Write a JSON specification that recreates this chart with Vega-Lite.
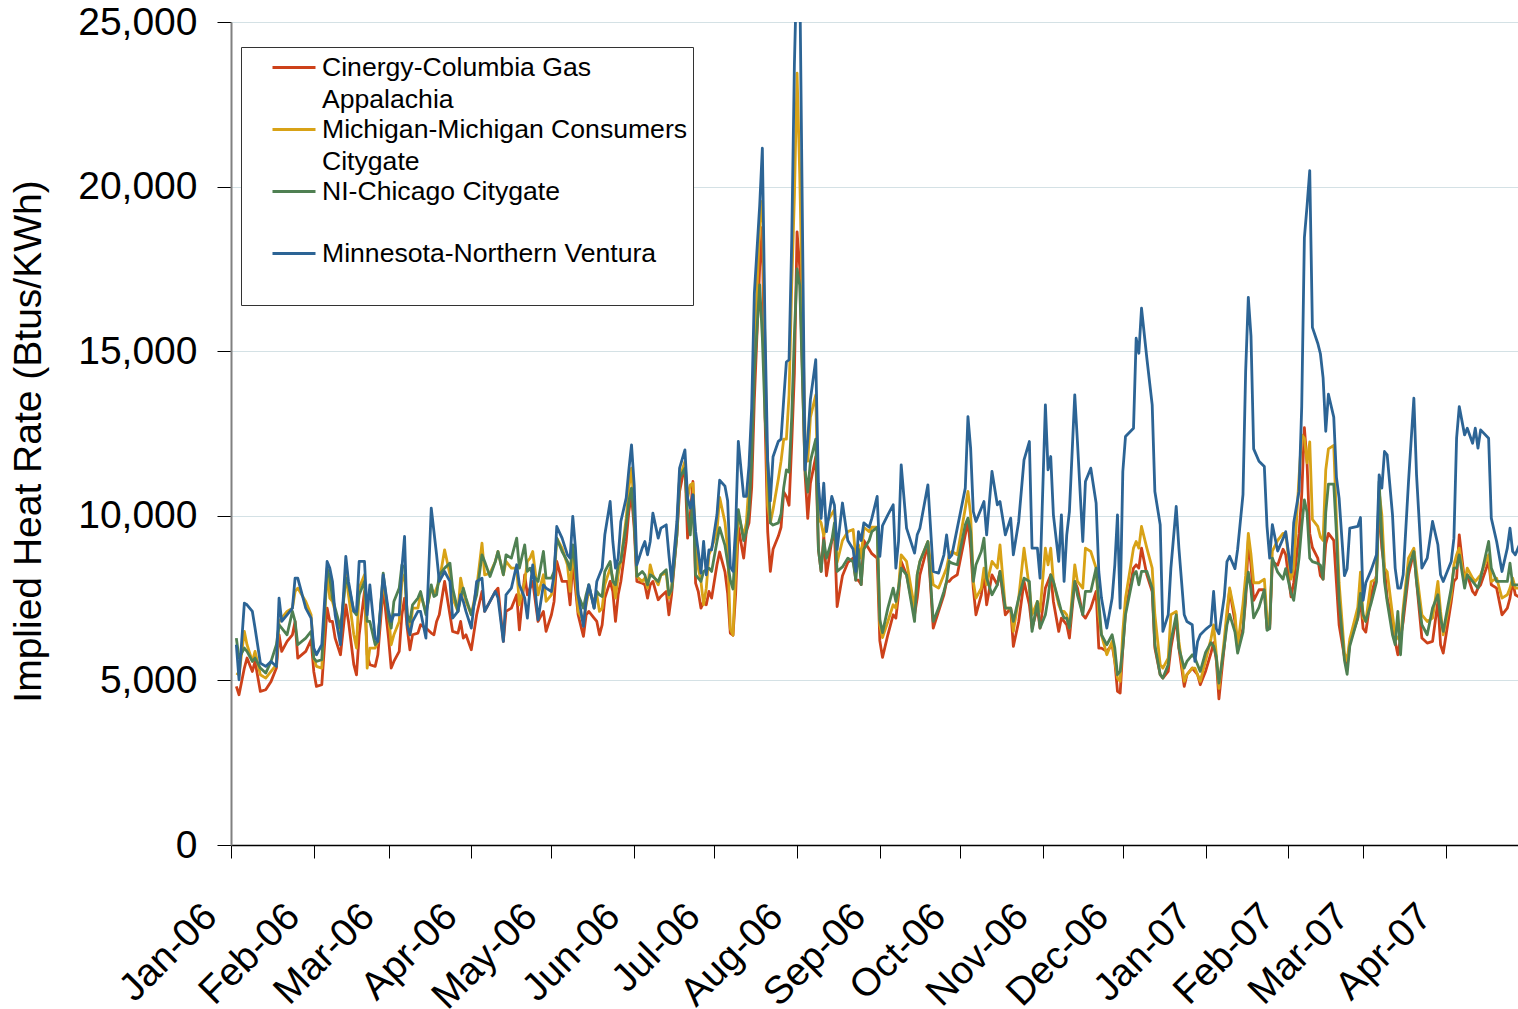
{
  "$schema": "https://vega.github.io/schema/vega-lite/v6.json",
  "autosize": {"type": "none"},
  "padding": {"left": 231, "top": 22, "right": 0, "bottom": 164},
  "width": 1287,
  "height": 823,
  "background": "white",
  "config": {"view": {"stroke": null}, "font": "Liberation Sans"},
  "data": {
    "format": {"parse": {"d": "date:'%Y-%m-%d'"}},
    "values": [
      {"d":"2006-01-03","cin":4820,"mic":5220,"chi":6285,"min":6083},
      {"d":"2006-01-04","cin":4565,"mic":5170,"chi":5680,"min":5020},
      {"d":"2006-01-06","cin":5375,"mic":6488,"chi":5982,"min":7348},
      {"d":"2006-01-07","cin":5680,"mic":6083,"chi":5880,"min":7297},
      {"d":"2006-01-09","cin":5270,"mic":5577,"chi":5577,"min":7095},
      {"d":"2006-01-10","cin":5577,"mic":5880,"chi":5678,"min":6589},
      {"d":"2006-01-12","cin":4666,"mic":5170,"chi":5374,"min":5526},
      {"d":"2006-01-14","cin":4717,"mic":5070,"chi":5223,"min":5425},
      {"d":"2006-01-16","cin":4970,"mic":5273,"chi":5577,"min":5577},
      {"d":"2006-01-18","cin":5374,"mic":5476,"chi":6083,"min":5425},
      {"d":"2006-01-19","cin":6386,"mic":6791,"chi":6690,"min":7500},
      {"d":"2006-01-20","cin":5880,"mic":6893,"chi":6589,"min":6791},
      {"d":"2006-01-22","cin":6184,"mic":7095,"chi":6386,"min":6994},
      {"d":"2006-01-24","cin":6386,"mic":7196,"chi":7095,"min":7196},
      {"d":"2006-01-25","cin":6791,"mic":7702,"chi":6791,"min":8107},
      {"d":"2006-01-26","cin":5678,"mic":7803,"chi":6083,"min":8107},
      {"d":"2006-01-29","cin":5880,"mic":7398,"chi":6285,"min":7196},
      {"d":"2006-01-31","cin":6234,"mic":6994,"chi":6488,"min":6893},
      {"d":"2006-02-01","cin":5273,"mic":5678,"chi":5678,"min":5982},
      {"d":"2006-02-02","cin":4818,"mic":5425,"chi":5577,"min":5779},
      {"d":"2006-02-04","cin":4869,"mic":5374,"chi":5627,"min":6083},
      {"d":"2006-02-06","cin":7196,"mic":8309,"chi":8411,"min":8613},
      {"d":"2006-02-07","cin":6791,"mic":7500,"chi":8107,"min":8411},
      {"d":"2006-02-08","cin":6791,"mic":7398,"chi":7500,"min":8006},
      {"d":"2006-02-09","cin":6285,"mic":7095,"chi":7196,"min":6994},
      {"d":"2006-02-11","cin":5779,"mic":6285,"chi":6589,"min":6083},
      {"d":"2006-02-13","cin":7297,"mic":8208,"chi":8107,"min":8765},
      {"d":"2006-02-14","cin":6791,"mic":7601,"chi":7904,"min":8006},
      {"d":"2006-02-16","cin":5476,"mic":6386,"chi":7095,"min":7095},
      {"d":"2006-02-17","cin":5170,"mic":5982,"chi":6994,"min":7095},
      {"d":"2006-02-18","cin":6386,"mic":7803,"chi":7601,"min":8613},
      {"d":"2006-02-20","cin":7702,"mic":8208,"chi":8006,"min":8613},
      {"d":"2006-02-21","cin":5779,"mic":5374,"chi":6791,"min":6994},
      {"d":"2006-02-22","cin":5476,"mic":5982,"chi":6791,"min":7904},
      {"d":"2006-02-24","cin":5425,"mic":5982,"chi":6083,"min":6285},
      {"d":"2006-02-25","cin":5779,"mic":6184,"chi":6184,"min":6184},
      {"d":"2006-02-27","cin":7803,"mic":8006,"chi":8259,"min":8208},
      {"d":"2006-03-01","cin":6285,"mic":6994,"chi":6893,"min":7095},
      {"d":"2006-03-02","cin":5375,"mic":6083,"chi":6589,"min":6791},
      {"d":"2006-03-03","cin":5577,"mic":6386,"chi":7398,"min":6994},
      {"d":"2006-03-05","cin":5880,"mic":6791,"chi":7803,"min":6994},
      {"d":"2006-03-06","cin":6994,"mic":8006,"chi":8512,"min":8411},
      {"d":"2006-03-07","cin":7500,"mic":8208,"chi":8411,"min":9372},
      {"d":"2006-03-08","cin":6589,"mic":6994,"chi":6994,"min":6690},
      {"d":"2006-03-09","cin":5931,"mic":6386,"chi":6791,"min":6386},
      {"d":"2006-03-10","cin":6386,"mic":7196,"chi":7297,"min":6791},
      {"d":"2006-03-12","cin":6437,"mic":7196,"chi":7500,"min":7095},
      {"d":"2006-03-13","cin":6690,"mic":7601,"chi":7702,"min":7095},
      {"d":"2006-03-15","cin":6589,"mic":7095,"chi":6994,"min":6285},
      {"d":"2006-03-17","cin":6437,"mic":7803,"chi":7904,"min":10232},
      {"d":"2006-03-18","cin":6386,"mic":7601,"chi":7550,"min":9524},
      {"d":"2006-03-19","cin":6791,"mic":7803,"chi":7601,"min":8815},
      {"d":"2006-03-20","cin":6994,"mic":8006,"chi":8208,"min":8006},
      {"d":"2006-03-22","cin":8006,"mic":8967,"chi":8411,"min":8309},
      {"d":"2006-03-24","cin":6994,"mic":8208,"chi":8562,"min":8006},
      {"d":"2006-03-25","cin":6488,"mic":7500,"chi":7803,"min":6893},
      {"d":"2006-03-27","cin":6437,"mic":7095,"chi":7095,"min":7095},
      {"d":"2006-03-28","cin":6791,"mic":8107,"chi":7500,"min":7601},
      {"d":"2006-03-29","cin":6285,"mic":7702,"chi":7803,"min":7398},
      {"d":"2006-03-30","cin":6386,"mic":7398,"chi":7500,"min":7095},
      {"d":"2006-04-01","cin":5931,"mic":6994,"chi":6994,"min":6589},
      {"d":"2006-04-03","cin":6994,"mic":7803,"chi":7601,"min":8006},
      {"d":"2006-04-05","cin":7702,"mic":9170,"chi":8815,"min":8107},
      {"d":"2006-04-06","cin":7095,"mic":8208,"chi":8613,"min":7095},
      {"d":"2006-04-08","cin":7398,"mic":8259,"chi":8158,"min":7398},
      {"d":"2006-04-10","cin":7702,"mic":8613,"chi":8613,"min":7702},
      {"d":"2006-04-11","cin":7803,"mic":8916,"chi":8916,"min":7500},
      {"d":"2006-04-13","cin":6184,"mic":8208,"chi":8208,"min":6183},
      {"d":"2006-04-14","cin":7095,"mic":8613,"chi":8815,"min":7601},
      {"d":"2006-04-16","cin":7196,"mic":8411,"chi":8714,"min":7803},
      {"d":"2006-04-18","cin":7601,"mic":8411,"chi":9321,"min":8512},
      {"d":"2006-04-19","cin":6538,"mic":7297,"chi":8411,"min":7904},
      {"d":"2006-04-21","cin":8208,"mic":8006,"chi":9119,"min":7500},
      {"d":"2006-04-22","cin":7601,"mic":8613,"chi":8309,"min":6893},
      {"d":"2006-04-23","cin":7803,"mic":8714,"chi":8411,"min":7803},
      {"d":"2006-04-24","cin":8006,"mic":8916,"chi":8208,"min":8511},
      {"d":"2006-04-26","cin":6791,"mic":7601,"chi":8006,"min":6842},
      {"d":"2006-04-28","cin":7095,"mic":8208,"chi":8916,"min":7904},
      {"d":"2006-04-29","cin":6488,"mic":7398,"chi":8107,"min":7803},
      {"d":"2006-05-01","cin":6994,"mic":7601,"chi":8107,"min":7702},
      {"d":"2006-05-02","cin":7398,"mic":8006,"chi":8309,"min":8208},
      {"d":"2006-05-03","cin":8613,"mic":9321,"chi":9321,"min":9675},
      {"d":"2006-05-05","cin":8006,"mic":9018,"chi":8916,"min":9321},
      {"d":"2006-05-07","cin":8006,"mic":8512,"chi":8613,"min":8815},
      {"d":"2006-05-08","cin":7297,"mic":7702,"chi":8360,"min":8714},
      {"d":"2006-05-09","cin":8613,"mic":8916,"chi":9119,"min":9980},
      {"d":"2006-05-10","cin":7803,"mic":8208,"chi":8411,"min":9018},
      {"d":"2006-05-11","cin":6994,"mic":7095,"chi":7601,"min":7601},
      {"d":"2006-05-13","cin":6336,"mic":6791,"chi":7196,"min":6640},
      {"d":"2006-05-14","cin":6994,"mic":7297,"chi":7601,"min":7398},
      {"d":"2006-05-15","cin":7095,"mic":7702,"chi":7904,"min":7904},
      {"d":"2006-05-17","cin":6893,"mic":7398,"chi":7196,"min":7196},
      {"d":"2006-05-18","cin":6791,"mic":7601,"chi":7702,"min":8006},
      {"d":"2006-05-19","cin":6386,"mic":7095,"chi":7601,"min":8208},
      {"d":"2006-05-20","cin":6690,"mic":7196,"chi":7550,"min":8411},
      {"d":"2006-05-21","cin":7500,"mic":7904,"chi":8309,"min":9422},
      {"d":"2006-05-23","cin":8006,"mic":8411,"chi":8613,"min":10435},
      {"d":"2006-05-24","cin":7702,"mic":8107,"chi":8006,"min":9220},
      {"d":"2006-05-25","cin":6791,"mic":7500,"chi":7904,"min":8411},
      {"d":"2006-05-26","cin":7601,"mic":8208,"chi":8512,"min":8714},
      {"d":"2006-05-27","cin":8006,"mic":8613,"chi":8613,"min":9827},
      {"d":"2006-05-29","cin":9220,"mic":9929,"chi":9726,"min":10536},
      {"d":"2006-05-30","cin":10131,"mic":10840,"chi":10435,"min":11396},
      {"d":"2006-05-31","cin":10637,"mic":11447,"chi":10840,"min":12155},
      {"d":"2006-06-01","cin":9625,"mic":10232,"chi":9827,"min":10941},
      {"d":"2006-06-02","cin":8006,"mic":8158,"chi":8158,"min":8512},
      {"d":"2006-06-04","cin":7955,"mic":8006,"chi":8309,"min":9018},
      {"d":"2006-06-05","cin":7904,"mic":8107,"chi":8208,"min":9220},
      {"d":"2006-06-06","cin":7500,"mic":7803,"chi":7904,"min":8815},
      {"d":"2006-06-07","cin":7904,"mic":8512,"chi":8208,"min":9220},
      {"d":"2006-06-08","cin":8006,"mic":8208,"chi":8158,"min":10080},
      {"d":"2006-06-10","cin":7449,"mic":7904,"chi":8006,"min":9321},
      {"d":"2006-06-11","cin":7550,"mic":8208,"chi":8208,"min":9625},
      {"d":"2006-06-13","cin":7702,"mic":8259,"chi":8360,"min":9726},
      {"d":"2006-06-14","cin":6994,"mic":7500,"chi":7601,"min":8815},
      {"d":"2006-06-15","cin":7601,"mic":7803,"chi":7753,"min":8006},
      {"d":"2006-06-17","cin":9422,"mic":9625,"chi":9422,"min":9827},
      {"d":"2006-06-18","cin":10739,"mic":11143,"chi":11143,"min":11447},
      {"d":"2006-06-20","cin":11548,"mic":11649,"chi":11447,"min":12003},
      {"d":"2006-06-21","cin":9321,"mic":10536,"chi":10030,"min":10536},
      {"d":"2006-06-22","cin":10030,"mic":10941,"chi":9422,"min":10232},
      {"d":"2006-06-23","cin":11042,"mic":10991,"chi":10637,"min":10637},
      {"d":"2006-06-24","cin":7955,"mic":9119,"chi":8208,"min":9524},
      {"d":"2006-06-25","cin":7702,"mic":8411,"chi":8107,"min":8916},
      {"d":"2006-06-26","cin":7196,"mic":8006,"chi":8006,"min":8259},
      {"d":"2006-06-27","cin":7398,"mic":7297,"chi":8309,"min":9220},
      {"d":"2006-06-28","cin":7297,"mic":7803,"chi":8360,"min":8208},
      {"d":"2006-06-29","cin":7702,"mic":8815,"chi":8411,"min":8967},
      {"d":"2006-06-30","cin":7500,"mic":9018,"chi":8309,"min":8967},
      {"d":"2006-07-02","cin":8512,"mic":9524,"chi":9220,"min":10030},
      {"d":"2006-07-03","cin":8900,"mic":10560,"chi":9640,"min":11080},
      {"d":"2006-07-05","cin":8300,"mic":9800,"chi":9100,"min":10900},
      {"d":"2006-07-06","cin":7643,"mic":8982,"chi":8581,"min":10455},
      {"d":"2006-07-07","cin":6438,"mic":6572,"chi":8045,"min":8447},
      {"d":"2006-07-08","cin":6371,"mic":6371,"chi":7777,"min":8313},
      {"d":"2006-07-09","cin":7643,"mic":8313,"chi":9250,"min":9652},
      {"d":"2006-07-10","cin":9652,"mic":10054,"chi":10187,"min":12263},
      {"d":"2006-07-12","cin":8715,"mic":9384,"chi":9250,"min":10589},
      {"d":"2006-07-13","cin":9518,"mic":9786,"chi":9518,"min":10589},
      {"d":"2006-07-14","cin":9786,"mic":10991,"chi":10187,"min":11526},
      {"d":"2006-07-15","cin":10857,"mic":12330,"chi":11660,"min":13267},
      {"d":"2006-07-16","cin":13535,"mic":14874,"chi":14338,"min":16749},
      {"d":"2006-07-18","cin":17552,"mic":18891,"chi":17016,"min":19427},
      {"d":"2006-07-19","cin":18757,"mic":19561,"chi":15410,"min":21167},
      {"d":"2006-07-20","cin":12999,"mic":15008,"chi":12999,"min":15677},
      {"d":"2006-07-21","cin":9518,"mic":10321,"chi":11660,"min":11660},
      {"d":"2006-07-22","cin":8313,"mic":9786,"chi":9786,"min":10455},
      {"d":"2006-07-23","cin":8982,"mic":10187,"chi":9719,"min":11794},
      {"d":"2006-07-25","cin":9384,"mic":11125,"chi":9786,"min":12263},
      {"d":"2006-07-26","cin":9652,"mic":11660,"chi":10054,"min":12330},
      {"d":"2006-07-27","cin":10723,"mic":12330,"chi":10857,"min":13535},
      {"d":"2006-07-28","cin":10589,"mic":12330,"chi":11393,"min":14673},
      {"d":"2006-07-29","cin":10321,"mic":13669,"chi":11326,"min":14740},
      {"d":"2006-07-30","cin":12196,"mic":17016,"chi":12999,"min":18355},
      {"d":"2006-07-31","cin":14338,"mic":19694,"chi":15500,"min":23711},
      {"d":"2006-08-01","cin":18623,"mic":23444,"chi":17500,"min":27000},
      {"d":"2006-08-02","cin":17552,"mic":20364,"chi":17000,"min":26500},
      {"d":"2006-08-04","cin":11259,"mic":12330,"chi":11393,"min":11393},
      {"d":"2006-08-05","cin":9920,"mic":11660,"chi":10723,"min":12330},
      {"d":"2006-08-06","cin":10991,"mic":12999,"chi":11660,"min":13535},
      {"d":"2006-08-08","cin":11794,"mic":13669,"chi":12330,"min":14740},
      {"d":"2006-08-09","cin":8982,"mic":9920,"chi":8982,"min":10991},
      {"d":"2006-08-10","cin":8313,"mic":9786,"chi":8313,"min":9920},
      {"d":"2006-08-11","cin":9384,"mic":9384,"chi":9250,"min":10991},
      {"d":"2006-08-12","cin":8179,"mic":9786,"chi":8715,"min":9518},
      {"d":"2006-08-14","cin":9250,"mic":10054,"chi":9250,"min":10589},
      {"d":"2006-08-15","cin":9518,"mic":10187,"chi":9786,"min":10321},
      {"d":"2006-08-16","cin":7242,"mic":8581,"chi":8313,"min":8982},
      {"d":"2006-08-18","cin":8179,"mic":9250,"chi":8447,"min":10388},
      {"d":"2006-08-20","cin":8581,"mic":9518,"chi":8715,"min":9250},
      {"d":"2006-08-22","cin":8715,"mic":9585,"chi":8600,"min":8982},
      {"d":"2006-08-23","cin":8045,"mic":8715,"chi":8045,"min":8313},
      {"d":"2006-08-24","cin":8045,"mic":9117,"chi":8982,"min":9518},
      {"d":"2006-08-25","cin":7911,"mic":8715,"chi":7911,"min":9250},
      {"d":"2006-08-26","cin":9250,"mic":9652,"chi":8982,"min":9786},
      {"d":"2006-08-28","cin":8982,"mic":9518,"chi":9250,"min":9652},
      {"d":"2006-08-29","cin":8849,"mic":9652,"chi":9518,"min":9920},
      {"d":"2006-08-31","cin":8715,"mic":9652,"chi":9652,"min":10589},
      {"d":"2006-09-01","cin":6200,"mic":6680,"chi":6850,"min":8765},
      {"d":"2006-09-02","cin":5700,"mic":6300,"chi":6450,"min":9700},
      {"d":"2006-09-04","cin":6386,"mic":6791,"chi":7196,"min":10030},
      {"d":"2006-09-06","cin":6994,"mic":7297,"chi":7803,"min":10333},
      {"d":"2006-09-07","cin":6893,"mic":7196,"chi":7398,"min":8411},
      {"d":"2006-09-08","cin":7601,"mic":7803,"chi":7803,"min":9220},
      {"d":"2006-09-09","cin":8613,"mic":8815,"chi":8411,"min":11548},
      {"d":"2006-09-11","cin":8208,"mic":8613,"chi":8208,"min":9625},
      {"d":"2006-09-14","cin":6994,"mic":7196,"chi":6791,"min":8866},
      {"d":"2006-09-15","cin":7500,"mic":8208,"chi":8208,"min":9422},
      {"d":"2006-09-16","cin":8208,"mic":8613,"chi":8613,"min":9625},
      {"d":"2006-09-19","cin":9119,"mic":9220,"chi":9220,"min":10941},
      {"d":"2006-09-21","cin":6589,"mic":7904,"chi":6791,"min":8309},
      {"d":"2006-09-23","cin":7095,"mic":7803,"chi":7196,"min":8259},
      {"d":"2006-09-25","cin":7601,"mic":8208,"chi":7702,"min":8815},
      {"d":"2006-09-26","cin":8006,"mic":8411,"chi":8006,"min":9422},
      {"d":"2006-09-27","cin":8006,"mic":8815,"chi":8613,"min":8714},
      {"d":"2006-09-28","cin":8107,"mic":8916,"chi":8562,"min":8815},
      {"d":"2006-09-30","cin":8208,"mic":8815,"chi":8512,"min":9625},
      {"d":"2006-10-03","cin":9422,"mic":10232,"chi":9726,"min":10840},
      {"d":"2006-10-04","cin":9827,"mic":10738,"chi":9929,"min":13015},
      {"d":"2006-10-05","cin":9018,"mic":10030,"chi":9524,"min":12054},
      {"d":"2006-10-06","cin":7803,"mic":8006,"chi":8006,"min":10131},
      {"d":"2006-10-07","cin":6994,"mic":7500,"chi":8512,"min":9827},
      {"d":"2006-10-09","cin":7601,"mic":7803,"chi":8916,"min":10232},
      {"d":"2006-10-10","cin":8208,"mic":8411,"chi":9321,"min":10434},
      {"d":"2006-10-11","cin":7297,"mic":7904,"chi":8107,"min":9422},
      {"d":"2006-10-13","cin":8208,"mic":8613,"chi":7601,"min":11346},
      {"d":"2006-10-15","cin":7904,"mic":8411,"chi":7904,"min":10333},
      {"d":"2006-10-16","cin":8309,"mic":9119,"chi":8309,"min":10435},
      {"d":"2006-10-18","cin":6994,"mic":7196,"chi":7196,"min":9422},
      {"d":"2006-10-20","cin":7196,"mic":7196,"chi":7196,"min":9929},
      {"d":"2006-10-21","cin":6032,"mic":6488,"chi":6791,"min":8815},
      {"d":"2006-10-23","cin":6791,"mic":7500,"chi":7500,"min":9827},
      {"d":"2006-10-25","cin":8006,"mic":9018,"chi":8107,"min":11700},
      {"d":"2006-10-27","cin":7297,"mic":7803,"chi":8006,"min":12256},
      {"d":"2006-10-28","cin":6589,"mic":6994,"chi":6488,"min":9018},
      {"d":"2006-10-30","cin":7196,"mic":7398,"chi":7398,"min":9018},
      {"d":"2006-10-31","cin":6589,"mic":7095,"chi":6589,"min":8107},
      {"d":"2006-11-02","cin":7803,"mic":9018,"chi":6994,"min":13369},
      {"d":"2006-11-03","cin":8006,"mic":8512,"chi":7500,"min":11396},
      {"d":"2006-11-04","cin":8208,"mic":9018,"chi":8208,"min":11801},
      {"d":"2006-11-05","cin":7398,"mic":8006,"chi":8006,"min":10030},
      {"d":"2006-11-07","cin":6488,"mic":7297,"chi":7398,"min":8613},
      {"d":"2006-11-08","cin":6893,"mic":7095,"chi":7095,"min":10030},
      {"d":"2006-11-09","cin":6791,"mic":7095,"chi":6893,"min":8006},
      {"d":"2006-11-10","cin":6690,"mic":6994,"chi":6893,"min":9422},
      {"d":"2006-11-11","cin":6285,"mic":6589,"chi":6589,"min":10131},
      {"d":"2006-11-13","cin":8006,"mic":8512,"chi":8006,"min":13673},
      {"d":"2006-11-14","cin":7803,"mic":8006,"chi":7601,"min":12256},
      {"d":"2006-11-16","cin":6994,"mic":7803,"chi":6994,"min":9220},
      {"d":"2006-11-17","cin":6893,"mic":9018,"chi":7702,"min":11042},
      {"d":"2006-11-19","cin":7196,"mic":8917,"chi":7702,"min":11447},
      {"d":"2006-11-21","cin":7702,"mic":8411,"chi":8411,"min":10384},
      {"d":"2006-11-22","cin":5982,"mic":6994,"chi":7398,"min":8309},
      {"d":"2006-11-23","cin":5982,"mic":6386,"chi":6386,"min":7500},
      {"d":"2006-11-25","cin":5880,"mic":5779,"chi":6083,"min":6589},
      {"d":"2006-11-27","cin":6083,"mic":6184,"chi":6386,"min":7500},
      {"d":"2006-11-28","cin":5577,"mic":5577,"chi":5982,"min":8512},
      {"d":"2006-11-29","cin":4666,"mic":5071,"chi":5172,"min":10030},
      {"d":"2006-11-30","cin":4615,"mic":4970,"chi":5273,"min":7196},
      {"d":"2006-12-01","cin":5982,"mic":6488,"chi":5982,"min":11346},
      {"d":"2006-12-02","cin":7095,"mic":7500,"chi":6994,"min":12408},
      {"d":"2006-12-05","cin":8411,"mic":9018,"chi":8208,"min":12661},
      {"d":"2006-12-06","cin":8512,"mic":9220,"chi":8309,"min":15393},
      {"d":"2006-12-07","cin":8411,"mic":9018,"chi":7904,"min":14938},
      {"d":"2006-12-08","cin":9018,"mic":9675,"chi":8309,"min":16304},
      {"d":"2006-12-10","cin":8208,"mic":9018,"chi":8309,"min":14786},
      {"d":"2006-12-12","cin":7702,"mic":8411,"chi":7803,"min":13369},
      {"d":"2006-12-13","cin":5982,"mic":6994,"chi":6083,"min":10738},
      {"d":"2006-12-15","cin":5172,"mic":5476,"chi":5172,"min":9726},
      {"d":"2006-12-16","cin":5071,"mic":5375,"chi":5071,"min":6488},
      {"d":"2006-12-18","cin":5273,"mic":5678,"chi":5476,"min":6994},
      {"d":"2006-12-19","cin":5982,"mic":6994,"chi":6184,"min":8411},
      {"d":"2006-12-21","cin":6893,"mic":7095,"chi":6994,"min":10283},
      {"d":"2006-12-22","cin":5982,"mic":6184,"chi":5982,"min":9018},
      {"d":"2006-12-24","cin":4818,"mic":4970,"chi":5375,"min":6994},
      {"d":"2006-12-25","cin":5172,"mic":5172,"chi":5577,"min":6791},
      {"d":"2006-12-27","cin":5375,"mic":5375,"chi":5779,"min":6690},
      {"d":"2006-12-28","cin":5273,"mic":5375,"chi":5678,"min":5577},
      {"d":"2006-12-29","cin":5172,"mic":5172,"chi":5476,"min":6184},
      {"d":"2006-12-30","cin":4869,"mic":4970,"chi":5273,"min":6386},
      {"d":"2007-01-01","cin":5280,"mic":5600,"chi":5850,"min":6550},
      {"d":"2007-01-03","cin":5827,"mic":6255,"chi":6148,"min":6683},
      {"d":"2007-01-04","cin":6148,"mic":6683,"chi":6041,"min":7700},
      {"d":"2007-01-05","cin":5613,"mic":5800,"chi":5720,"min":6576},
      {"d":"2007-01-06","cin":4436,"mic":4757,"chi":4918,"min":6416},
      {"d":"2007-01-08","cin":6041,"mic":6255,"chi":6041,"min":7540},
      {"d":"2007-01-09","cin":6897,"mic":7111,"chi":6683,"min":8609},
      {"d":"2007-01-10","cin":7753,"mic":7807,"chi":7004,"min":8770},
      {"d":"2007-01-12","cin":6790,"mic":7004,"chi":6469,"min":8395},
      {"d":"2007-01-13","cin":5934,"mic":6041,"chi":5827,"min":8984},
      {"d":"2007-01-15","cin":6576,"mic":7325,"chi":6469,"min":10642},
      {"d":"2007-01-16","cin":7432,"mic":8181,"chi":7646,"min":14387},
      {"d":"2007-01-17","cin":9251,"mic":9465,"chi":8288,"min":16634},
      {"d":"2007-01-18","cin":8502,"mic":8823,"chi":7753,"min":15457},
      {"d":"2007-01-19","cin":7432,"mic":7967,"chi":6897,"min":12033},
      {"d":"2007-01-21","cin":7753,"mic":7967,"chi":7218,"min":11659},
      {"d":"2007-01-23","cin":7753,"mic":8074,"chi":7753,"min":11498},
      {"d":"2007-01-24","cin":6576,"mic":6897,"chi":6523,"min":9679},
      {"d":"2007-01-25","cin":6576,"mic":6683,"chi":6576,"min":8716},
      {"d":"2007-01-26","cin":8609,"mic":8930,"chi":8716,"min":9733},
      {"d":"2007-01-28","cin":8502,"mic":9251,"chi":8288,"min":8930},
      {"d":"2007-01-30","cin":8984,"mic":9465,"chi":8074,"min":9305},
      {"d":"2007-01-31","cin":8823,"mic":9465,"chi":8395,"min":9519},
      {"d":"2007-02-02","cin":7540,"mic":8074,"chi":7646,"min":8288},
      {"d":"2007-02-03","cin":7967,"mic":8395,"chi":7432,"min":9786},
      {"d":"2007-02-05","cin":9465,"mic":11177,"chi":8716,"min":10749},
      {"d":"2007-02-06","cin":10642,"mic":12461,"chi":9679,"min":13317},
      {"d":"2007-02-07","cin":12675,"mic":12354,"chi":10482,"min":18453},
      {"d":"2007-02-08","cin":11605,"mic":11605,"chi":10107,"min":19416},
      {"d":"2007-02-09","cin":9465,"mic":12247,"chi":8716,"min":20486},
      {"d":"2007-02-10","cin":9037,"mic":9893,"chi":8609,"min":15725},
      {"d":"2007-02-12","cin":8716,"mic":9679,"chi":8555,"min":15243},
      {"d":"2007-02-13","cin":8181,"mic":9358,"chi":8502,"min":14922},
      {"d":"2007-02-14","cin":8074,"mic":9251,"chi":8074,"min":14200},
      {"d":"2007-02-15","cin":9144,"mic":11391,"chi":10107,"min":12568},
      {"d":"2007-02-16","cin":9465,"mic":12033,"chi":10963,"min":13692},
      {"d":"2007-02-18","cin":9251,"mic":12140,"chi":10963,"min":12996},
      {"d":"2007-02-19","cin":7967,"mic":9893,"chi":9465,"min":11177},
      {"d":"2007-02-20","cin":6683,"mic":7967,"chi":7432,"min":10535},
      {"d":"2007-02-22","cin":5720,"mic":5827,"chi":5613,"min":8181},
      {"d":"2007-02-23","cin":5399,"mic":5600,"chi":5185,"min":8395},
      {"d":"2007-02-24","cin":6148,"mic":6255,"chi":6041,"min":9626},
      {"d":"2007-02-27","cin":6897,"mic":7218,"chi":6897,"min":9679},
      {"d":"2007-02-28","cin":7432,"mic":8288,"chi":7646,"min":9947},
      {"d":"2007-03-01","cin":6576,"mic":6897,"chi":7004,"min":7432},
      {"d":"2007-03-02","cin":6469,"mic":6790,"chi":6790,"min":7967},
      {"d":"2007-03-04","cin":7600,"mic":8000,"chi":7350,"min":8350},
      {"d":"2007-03-06","cin":8190,"mic":8090,"chi":7990,"min":8820},
      {"d":"2007-03-07","cin":10435,"mic":10738,"chi":11042,"min":11244},
      {"d":"2007-03-08","cin":9018,"mic":10030,"chi":9321,"min":10839},
      {"d":"2007-03-09","cin":8411,"mic":8411,"chi":8006,"min":11953},
      {"d":"2007-03-10","cin":7500,"mic":8300,"chi":7398,"min":11852},
      {"d":"2007-03-12","cin":6791,"mic":6994,"chi":6386,"min":10030},
      {"d":"2007-03-13","cin":6184,"mic":6385,"chi":6083,"min":8411},
      {"d":"2007-03-14","cin":5779,"mic":6285,"chi":7095,"min":7803},
      {"d":"2007-03-15","cin":6285,"mic":6184,"chi":5779,"min":7803},
      {"d":"2007-03-16","cin":6791,"mic":7196,"chi":6994,"min":8208},
      {"d":"2007-03-18","cin":8208,"mic":8714,"chi":8411,"min":11042},
      {"d":"2007-03-20","cin":8916,"mic":9018,"chi":8916,"min":13572},
      {"d":"2007-03-21","cin":8006,"mic":8300,"chi":8006,"min":11244},
      {"d":"2007-03-23","cin":6285,"mic":6994,"chi":6690,"min":8411},
      {"d":"2007-03-25","cin":6133,"mic":6791,"chi":6386,"min":8714},
      {"d":"2007-03-27","cin":6184,"mic":6893,"chi":7196,"min":9827},
      {"d":"2007-03-29","cin":7398,"mic":8006,"chi":7601,"min":9119},
      {"d":"2007-03-30","cin":6083,"mic":7095,"chi":6893,"min":8208},
      {"d":"2007-03-31","cin":5830,"mic":6386,"chi":6488,"min":8006},
      {"d":"2007-04-03","cin":7398,"mic":7601,"chi":7803,"min":8613},
      {"d":"2007-04-04","cin":8006,"mic":8512,"chi":8411,"min":9321},
      {"d":"2007-04-05","cin":8107,"mic":8815,"chi":8411,"min":12357},
      {"d":"2007-04-06","cin":9422,"mic":9018,"chi":8815,"min":13319},
      {"d":"2007-04-08","cin":8006,"mic":8006,"chi":7803,"min":12458},
      {"d":"2007-04-09","cin":8208,"mic":8411,"chi":8208,"min":12660},
      {"d":"2007-04-11","cin":7702,"mic":8107,"chi":8006,"min":12205},
      {"d":"2007-04-12","cin":7601,"mic":8006,"chi":7904,"min":12660},
      {"d":"2007-04-13","cin":7803,"mic":8107,"chi":7803,"min":12054},
      {"d":"2007-04-14","cin":7904,"mic":8208,"chi":8107,"min":12610},
      {"d":"2007-04-17","cin":8613,"mic":8815,"chi":9220,"min":12357},
      {"d":"2007-04-18","cin":7904,"mic":8006,"chi":8411,"min":9929},
      {"d":"2007-04-20","cin":7803,"mic":8107,"chi":8006,"min":9220},
      {"d":"2007-04-22","cin":6994,"mic":7500,"chi":8006,"min":8309},
      {"d":"2007-04-24","cin":7196,"mic":7601,"chi":8006,"min":9018},
      {"d":"2007-04-25","cin":7500,"mic":7803,"chi":8562,"min":9625},
      {"d":"2007-04-26","cin":8006,"mic":8107,"chi":7904,"min":8916},
      {"d":"2007-04-27","cin":7601,"mic":7803,"chi":7904,"min":8815},
      {"d":"2007-04-29","cin":7500,"mic":7803,"chi":7904,"min":9220}
    ]
  },
  "transform": [
    {"fold": ["cin", "mic", "chi", "min"], "as": ["series", "value"]}
  ],
  "mark": {"type": "line", "strokeWidth": 2.8, "strokeJoin": "round", "clip": true},
  "encoding": {
    "x": {
      "field": "d",
      "type": "temporal",
      "scale": {"domain": [{"year": 2006, "month": 1, "date": 1}, {"year": 2007, "month": 4, "date": 28}], "nice": false},
      "axis": {
        "title": null,
        "format": "%b-%y",
        "tickCount": {"interval": "month", "step": 1},
        "labelAngle": -45,
        "labelAlign": "right",
        "labelBaseline": "middle",
        "labelFont": "Liberation Sans",
        "labelFontSize": 39,
        "labelColor": "black",
        "labelPadding": 52,
        "labelOffset": -21,
        "labelOverlap": false,
        "labelFlush": false,
        "labelBound": false,
        "tickSize": 13,
        "tickColor": "black",
        "tickWidth": 1,
        "domainColor": "black",
        "domainWidth": 1.5,
        "grid": false
      }
    },
    "y": {
      "field": "value",
      "type": "quantitative",
      "scale": {"domain": [0, 25000], "nice": false},
      "axis": {
        "title": "Implied Heat Rate (Btus/KWh)",
        "values": [0, 5000, 10000, 15000, 20000, 25000],
        "format": ",d",
        "labelFont": "Liberation Sans",
        "labelFontSize": 39,
        "labelColor": "black",
        "labelPadding": 20,
        "labelOverlap": false,
        "labelFlush": false,
        "tickSize": 14,
        "tickColor": "black",
        "tickWidth": 1,
        "domainColor": "#808080",
        "domainWidth": 2,
        "grid": true,
        "gridColor": "#D4E1E5",
        "gridWidth": 1,
        "titleFont": "Liberation Sans",
        "titleFontSize": 39,
        "titleFontWeight": "normal",
        "titleColor": "black",
        "titleX": -183,
        "titleY": 419
      }
    },
    "color": {
      "field": "series",
      "type": "nominal",
      "scale": {"domain": ["cin", "mic", "chi", "min"], "range": ["#CD411A", "#D8A216", "#4F8052", "#2C6495"]},
      "legend": {
        "orient": "none",
        "legendX": 10,
        "legendY": 25,
        "title": null,
        "symbolType": "M-1.536,0H1.536",
        "symbolSize": 784,
        "symbolStrokeWidth": 3,
        "labelFont": "Liberation Sans",
        "labelFontSize": 26.6,
        "labelColor": "black",
        "labelLimit": 700,
        "labelOffset": 12.5,
        "labelBaseline": "middle",
        "labelExpr": "datum.value == 'cin' ? ['Cinergy-Columbia Gas', 'Appalachia'] : datum.value == 'mic' ? ['Michigan-Michigan Consumers', 'Citygate'] : datum.value == 'chi' ? ['NI-Chicago Citygate', ''] : ['Minnesota-Northern Ventura', '']",
        "padding": 5,
        "symbolOffset": 32.5,
        "rowPadding": 0,
        "strokeColor": "#333333",
        "fillColor": "white",
        "encode": {"labels": {"update": {"lineHeight": {"value": 32}}}}
      }
    }
  }
}
